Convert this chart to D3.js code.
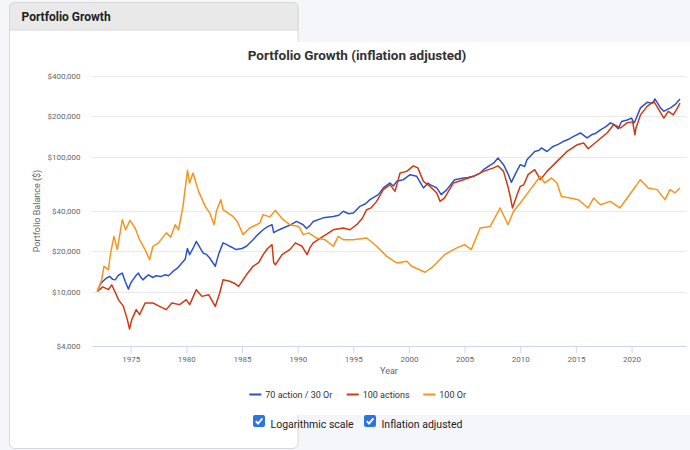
<!DOCTYPE html>
<html><head><meta charset="utf-8">
<script src="https://cdn.jsdelivr.net/npm/d3@7"></script>
<style>
html,body{margin:0;padding:0;background:#f4f6fa;}
svg{display:block;font-family:Roboto,"Noto Sans",sans-serif;}
</style></head>
<body><svg id="c" width="690" height="450"></svg>
<script>
// ---- data ----
const yTickValues = [4000, 10000, 20000, 40000, 100000, 200000, 400000];
const xTickYears = [1975, 1980, 1985, 1990, 1995, 2000, 2005, 2010, 2015, 2020];
const seriesNames = ["70 action / 30 Or", "100 actions", "100 Or"];
const seriesColors = ["#2d53c8", "#cf3a14", "#f5951f"];

const mixYears = [1972.0,1972.3,1972.5,1972.8,1973.1,1973.4,1973.6,1973.9,1974.25,1974.5,1974.8,1975.0,1975.2,1975.5,1975.7,1975.9,1976.1,1976.4,1976.6,1977.0,1977.3,1977.7,1978.1,1978.4,1978.8,1979.2,1979.6,1979.9,1980.1,1980.3,1980.6,1980.9,1981.2,1981.5,1981.8,1982.1,1982.6,1982.9,1983.3,1983.6,1983.9,1984.5,1985.0,1985.4,1986.0,1986.4,1986.9,1987.3,1987.7,1987.85,1988.3,1988.9,1989.4,1989.9,1990.5,1990.8,1991.1,1991.4,1992.3,1993.2,1993.7,1994.1,1994.6,1995.0,1995.6,1996.1,1996.5,1997.25,1997.7,1998.3,1998.6,1998.9,1999.5,2000.1,2000.7,2001.3,2001.7,2001.9,2002.5,2002.9,2003.4,2004.1,2004.9,2005.3,2005.8,2006.4,2006.7,2007.2,2007.6,2008.0,2008.5,2008.9,2009.2,2009.6,2010.0,2010.4,2010.6,2011.3,2011.7,2011.9,2012.4,2012.95,2013.4,2013.9,2014.4,2014.8,2015.4,2016.0,2016.4,2016.8,2017.2,2017.7,2018.1,2018.4,2018.8,2019.1,2019.6,2020.0,2020.2,2020.3,2020.8,2021.4,2021.9,2022.1,2022.6,2022.9,2023.2,2023.5,2023.9,2024.35];
const mixValues = [10100,11500,12000,12600,13050,12400,12300,13300,13800,12000,10500,11600,12300,13300,13800,12900,12300,13000,13400,12800,13200,13000,13400,13200,14200,15000,16400,17500,21000,18900,21000,23700,21500,19450,19000,17860,15500,19000,23100,22500,21800,20600,21000,21800,24400,26500,28900,30500,31500,27500,28800,30300,31500,33300,31500,29500,31000,33300,35400,36300,37000,39600,38000,38500,43100,45000,48300,52600,59000,64200,61000,66000,67900,73900,71900,59000,64000,62400,59000,52600,57300,67900,69800,70500,71900,76000,80500,86000,90000,98300,87700,75000,64900,76000,87700,85000,95500,109800,112000,116600,109800,119700,124000,130700,136000,142000,150600,138300,146000,150000,159000,168000,179000,174000,162000,183000,188000,194000,178000,183000,231000,254000,250000,269000,231000,218000,225000,231000,244000,269000];

const stockYears = [1972.0,1972.5,1973.0,1973.3,1973.6,1973.9,1974.35,1974.7,1974.9,1975.1,1975.5,1975.8,1976.3,1977.0,1977.6,1978.2,1978.7,1979.4,1980.0,1980.3,1980.9,1981.4,1982.0,1982.6,1983.0,1983.3,1983.9,1984.4,1984.7,1985.4,1986.0,1986.5,1986.9,1987.3,1987.7,1987.85,1988.0,1988.6,1989.3,1989.8,1990.4,1990.85,1991.1,1991.4,1992.3,1993.2,1994.1,1994.7,1995.3,1995.8,1996.2,1996.6,1997.1,1997.7,1998.3,1998.75,1999.2,1999.8,2000.4,2000.8,2001.3,2001.9,2002.5,2002.8,2003.2,2004.0,2004.9,2005.8,2006.7,2007.6,2008.0,2008.5,2008.9,2009.1,2009.3,2009.7,2010.0,2010.3,2010.7,2011.3,2011.8,2012.4,2013.3,2014.2,2015.1,2015.7,2016.1,2016.9,2017.8,2018.4,2019.0,2019.6,2020.1,2020.3,2020.4,2020.8,2021.4,2022.0,2022.45,2022.9,2023.3,2023.75,2024.2,2024.35];
const stockValues = [10100,10900,10400,11300,10000,8770,7820,6240,5320,6240,7400,6790,8290,8290,7820,7400,8290,8060,8770,8060,10400,9280,9550,7820,9830,12300,12000,11500,11000,13400,15500,16500,18900,21000,22400,16500,15900,18900,20600,23100,21800,18900,21200,23100,25800,28900,29800,28900,31500,35000,40700,42000,46900,57300,62400,55600,76000,78200,86000,83000,66000,60600,54100,46900,49700,64200,67900,71900,78200,83000,86000,78200,60000,51000,41900,52000,60600,62000,73900,80500,67900,78200,92800,109800,123000,127000,115000,130700,150600,174000,164000,179000,182000,146000,164000,205000,237000,258000,224000,194000,218000,205000,237000,251000];

const goldYears = [1972.0,1972.4,1972.6,1973.0,1973.2,1973.5,1973.8,1974.25,1974.55,1974.94,1975.4,1975.8,1976.3,1976.7,1977.0,1977.5,1978.2,1978.6,1979.0,1979.3,1979.7,1980.1,1980.3,1980.6,1981.1,1981.7,1982.1,1982.5,1982.7,1983.1,1983.3,1984.2,1984.6,1985.1,1985.7,1986.6,1986.9,1987.5,1988.0,1988.7,1989.3,1990.1,1990.5,1991.0,1991.7,1992.45,1993.2,1993.65,1994.1,1995.0,1996.2,1997.1,1998.0,1998.9,1999.8,2000.25,2001.45,2002.2,2003.2,2004.3,2005.0,2005.6,2006.4,2007.3,2008.2,2008.9,2009.4,2010.0,2010.9,2011.8,2012.2,2012.8,2013.3,2013.7,2014.5,2015.2,2016.1,2016.6,2017.2,2018.1,2018.95,2019.7,2020.8,2021.5,2022.3,2023.0,2023.45,2023.9,2024.35];
const goldValues = [10100,12330,15480,14630,19450,25800,20600,34300,28900,33900,29800,24400,20500,17350,21800,23100,27400,25500,31500,28900,43100,79600,64200,76000,55600,43100,38500,31500,39600,48300,40700,36300,33000,26600,29800,32400,37400,36000,40200,34300,31500,30600,26600,27400,25100,24400,21800,25800,24400,24400,25100,21800,18350,16400,16900,15500,14000,15500,18900,21200,22400,20600,29800,30600,41900,31500,39600,45600,57300,71900,64200,69800,64200,51000,49700,48300,41900,49700,44300,46900,41900,51000,67900,59000,57300,48300,57300,54100,59000];

const checkLabels = ["Logarithmic scale", "Inflation adjusted"];

// ---- drawing ----
const svg = d3.select("#c");
svg.append("rect").attr("width",690).attr("height",450).attr("fill","#f4f6fa");

// card
svg.append("rect").attr("x",9.5).attr("y",2.5).attr("width",288.5).attr("height",446)
  .attr("rx",5).attr("fill","#fff").attr("stroke","#d8d8d8");
svg.append("path").attr("d","M9.5,30 V7.5 a5,5 0 0 1 5,-5 H293 a5,5 0 0 1 5,5 V30 Z")
  .attr("fill","#e9e9e9").attr("stroke","#d8d8d8");
svg.append("text").attr("x",21.5).attr("y",20.5).attr("font-size",12).attr("font-weight","bold")
  .attr("fill","#222").text("Portfolio Growth");

// chart background
svg.append("rect").attr("x",24).attr("y",42).attr("width",666).attr("height",373).attr("fill","#fff");

const x = d3.scaleLinear().domain([1971.5, 2024.9]).range([91.7, 686.1]);
const y = d3.scaleLog().domain([4000, 400000]).range([345.7, 75.7]);

// title
svg.append("text").attr("x",357).attr("y",59.5).attr("text-anchor","middle")
  .attr("font-size",13.5).attr("font-weight","bold").attr("fill","#333")
  .text("Portfolio Growth (inflation adjusted)");

// grid
const fmt = d3.format("$,");
svg.append("g").selectAll("line").data(yTickValues.filter(v=>v!==4000)).join("line")
  .attr("x1",91.7).attr("x2",686.1).attr("y1",d=>Math.round(y(d))+0.5).attr("y2",d=>Math.round(y(d))+0.5)
  .attr("stroke","#e8e8e8").attr("stroke-width",1);
const yAxis = d3.axisLeft(y).tickValues(yTickValues).tickFormat(fmt).tickSize(0).tickPadding(0);
const gy = svg.append("g").attr("transform","translate(80.5,0)").call(yAxis);
gy.select(".domain").remove();
gy.selectAll("text").attr("font-size",8).attr("fill","#666").attr("font-family","Roboto,sans-serif");

// x axis
const xAxis = d3.axisBottom(x).tickValues(xTickYears).tickFormat(d3.format("d")).tickSize(7).tickPadding(3).tickSizeOuter(0);
const gx = svg.append("g").attr("transform","translate(0,346)").call(xAxis);
gx.select(".domain").attr("stroke","#ccd6eb");
gx.selectAll(".tick line").attr("stroke","#ccd6eb");
gx.selectAll("text").attr("font-size",8).attr("fill","#666").attr("font-family","Roboto,sans-serif");

svg.append("text").attr("x",389).attr("y",373.5).attr("text-anchor","middle")
  .attr("font-size",9).attr("fill","#666").text("Year");
svg.append("text").attr("transform","translate(39.5,211) rotate(-90)").attr("text-anchor","middle")
  .attr("font-size",9).attr("fill","#666").text("Portfolio Balance ($)");

// series
const series = [
  d3.zip(mixYears, mixValues),
  d3.zip(stockYears, stockValues),
  d3.zip(goldYears, goldValues)
];
const line = d3.line().x(d=>x(d[0])).y(d=>y(d[1]));
svg.append("g").selectAll("path").data(series).join("path")
  .attr("d", line).attr("fill","none").attr("stroke",(d,i)=>seriesColors[i])
  .attr("stroke-width",1.5).attr("stroke-linejoin","round");

// legend
const legendX = [249.3, 346.7, 423.3];
const lg = svg.append("g").selectAll("g").data(seriesNames).join("g")
  .attr("transform",(d,i)=>`translate(${legendX[i]},394.5)`);
lg.append("line").attr("x1",0).attr("x2",12).attr("stroke",(d,i)=>seriesColors[i]).attr("stroke-width",2);
lg.append("text").attr("x",16).attr("y",3).attr("font-size",9).attr("fill","#333").text(d=>d);

// checkboxes
const cbX = [253, 364];
const cb = svg.append("g").selectAll("g").data(checkLabels).join("g")
  .attr("transform",(d,i)=>`translate(${cbX[i]},415)`);
cb.append("rect").attr("width",12).attr("height",12).attr("rx",2).attr("fill","#2b74e2");
cb.append("path").attr("d","M2.8,6.2 L5,8.6 L9.4,3.4").attr("fill","none").attr("stroke","#fff").attr("stroke-width",1.8);
cb.append("text").attr("x",17.5).attr("y",12.8).attr("font-size",10.5).attr("fill","#222").text(d=>d);
</script></body></html>
